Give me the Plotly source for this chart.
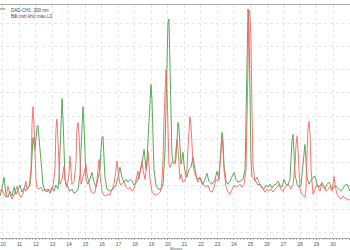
import plotly.graph_objects as go

# Retention time (minutes) and signal (mAU)
green_t = [9.82, 9.94, 10.06, 10.18, 10.30, 10.42, 10.55, 10.67, 10.79, 10.91, 11.03, 11.15, 11.27, 11.39, 11.52, 11.64, 11.70, 11.76, 11.82, 11.88, 11.94, 12.00, 12.06, 12.12, 12.18, 12.24, 12.30, 12.36, 12.42, 12.55, 12.73, 12.85, 12.97, 13.09, 13.21, 13.33, 13.39, 13.45, 13.52, 13.58, 13.64, 13.70, 13.76, 13.82, 13.94, 14.06, 14.18, 14.30, 14.42, 14.55, 14.67, 14.73, 14.79, 14.85, 14.91, 14.97, 15.03, 15.15, 15.27, 15.39, 15.52, 15.64, 15.76, 15.88, 15.94, 16.00, 16.06, 16.12, 16.18, 16.30, 16.48, 16.67, 16.85, 16.97, 17.09, 17.21, 17.33, 17.45, 17.58, 17.70, 17.82, 17.94, 18.06, 18.18, 18.30, 18.42, 18.55, 18.61, 18.67, 18.73, 18.79, 18.85, 18.91, 18.97, 19.03, 19.09, 19.15, 19.27, 19.39, 19.58, 19.70, 19.82, 19.88, 19.94, 20.00, 20.06, 20.12, 20.18, 20.24, 20.30, 20.42, 20.48, 20.55, 20.61, 20.67, 20.73, 20.79, 20.85, 20.91, 20.97, 21.03, 21.15, 21.27, 21.39, 21.52, 21.64, 21.76, 21.94, 22.12, 22.24, 22.36, 22.48, 22.67, 22.85, 22.97, 23.09, 23.15, 23.21, 23.27, 23.33, 23.39, 23.52, 23.64, 23.76, 23.88, 24.00, 24.12, 24.24, 24.36, 24.55, 24.67, 24.73, 24.79, 24.85, 24.91, 24.97, 25.03, 25.09, 25.21, 25.33, 25.45, 25.58, 25.70, 25.82, 25.94, 26.06, 26.18, 26.30, 26.42, 26.55, 26.67, 26.79, 26.91, 27.03, 27.15, 27.27, 27.39, 27.45, 27.52, 27.58, 27.64, 27.70, 27.82, 27.94, 28.06, 28.12, 28.18, 28.24, 28.30, 28.36, 28.42, 28.55, 28.67, 28.79, 28.91, 29.03, 29.15, 29.27, 29.39, 29.52, 29.64, 29.76, 29.88, 30.00, 30.12, 30.24, 30.36, 30.48, 30.61, 30.73, 30.85, 30.97, 31.03]
green_v = [15.6, 18.6, 23.7, 16.4, 15.1, 17.7, 15.6, 19.4, 16.4, 18.6, 20.3, 17.3, 19.0, 17.7, 19.4, 20.3, 25.0, 35.7, 40.8, 37.8, 35.7, 40.0, 45.1, 46.0, 40.0, 34.4, 32.3, 26.3, 20.7, 17.7, 18.6, 16.8, 19.4, 17.7, 20.3, 18.6, 22.8, 35.7, 50.7, 57.6, 48.7, 31.4, 22.8, 20.3, 19.4, 17.7, 18.6, 16.8, 17.3, 18.6, 25.0, 35.7, 49.4, 54.1, 46.4, 31.4, 22.8, 20.7, 22.8, 25.8, 21.6, 19.4, 22.8, 27.1, 35.7, 40.8, 41.3, 33.6, 23.7, 18.6, 17.7, 18.6, 20.3, 23.7, 28.0, 23.7, 21.6, 22.8, 21.6, 22.8, 22.4, 20.3, 21.1, 22.8, 26.3, 29.3, 35.7, 32.3, 27.1, 31.4, 40.0, 50.7, 59.3, 63.6, 57.1, 40.0, 27.1, 20.3, 18.6, 18.6, 20.7, 35.7, 57.1, 78.6, 90.6, 91.8, 70.0, 44.3, 33.6, 30.1, 29.3, 31.4, 40.0, 47.3, 44.3, 33.6, 29.3, 31.4, 34.4, 29.3, 26.3, 23.7, 27.1, 28.0, 32.3, 27.1, 22.8, 23.7, 20.7, 22.8, 25.4, 22.0, 20.7, 22.8, 26.3, 22.8, 29.3, 37.8, 43.0, 40.0, 29.3, 22.0, 20.7, 22.0, 23.7, 25.8, 22.8, 21.6, 22.0, 22.8, 27.1, 48.7, 82.8, 96.1, 87.1, 52.8, 31.4, 23.7, 22.8, 22.0, 20.3, 20.7, 19.4, 18.6, 20.3, 19.4, 20.7, 19.0, 20.3, 20.7, 22.0, 20.3, 19.4, 22.8, 20.7, 20.3, 22.8, 31.4, 40.0, 42.1, 35.7, 25.0, 20.7, 19.4, 20.3, 25.0, 31.4, 36.6, 37.8, 31.4, 23.7, 20.7, 22.0, 23.7, 24.1, 20.7, 19.4, 20.7, 19.8, 18.6, 20.7, 21.6, 19.8, 18.6, 20.3, 19.4, 18.6, 17.7, 19.0, 20.3, 20.7, 18.6, 17.7]

red_t = [9.82, 9.94, 10.06, 10.18, 10.30, 10.42, 10.55, 10.67, 10.79, 10.85, 10.97, 11.09, 11.21, 11.33, 11.39, 11.45, 11.58, 11.64, 11.70, 11.76, 11.82, 11.88, 11.94, 12.00, 12.06, 12.18, 12.30, 12.42, 12.55, 12.67, 12.79, 12.91, 13.03, 13.15, 13.21, 13.27, 13.33, 13.39, 13.45, 13.58, 13.70, 13.76, 13.88, 14.00, 14.06, 14.12, 14.18, 14.30, 14.42, 14.48, 14.55, 14.61, 14.67, 14.73, 14.85, 14.97, 15.03, 15.09, 15.21, 15.33, 15.45, 15.58, 15.70, 15.76, 15.82, 15.88, 16.00, 16.12, 16.24, 16.36, 16.48, 16.61, 16.73, 16.85, 16.91, 16.97, 17.09, 17.21, 17.33, 17.45, 17.58, 17.70, 17.82, 17.94, 18.06, 18.18, 18.24, 18.30, 18.42, 18.48, 18.61, 18.73, 18.79, 18.85, 18.91, 19.03, 19.15, 19.27, 19.39, 19.52, 19.58, 19.64, 19.70, 19.76, 19.82, 19.88, 19.94, 20.00, 20.06, 20.12, 20.24, 20.36, 20.42, 20.48, 20.55, 20.61, 20.67, 20.73, 20.79, 20.85, 20.91, 21.03, 21.15, 21.21, 21.27, 21.33, 21.39, 21.45, 21.52, 21.58, 21.70, 21.82, 21.94, 22.06, 22.18, 22.30, 22.42, 22.55, 22.67, 22.79, 22.91, 23.03, 23.15, 23.21, 23.27, 23.33, 23.39, 23.52, 23.64, 23.76, 23.88, 24.00, 24.12, 24.24, 24.36, 24.48, 24.61, 24.73, 24.79, 24.85, 24.91, 24.97, 25.03, 25.09, 25.15, 25.27, 25.39, 25.52, 25.64, 25.76, 25.88, 26.00, 26.12, 26.24, 26.36, 26.48, 26.61, 26.73, 26.85, 26.97, 27.09, 27.21, 27.33, 27.45, 27.58, 27.70, 27.76, 27.82, 27.88, 27.94, 28.00, 28.12, 28.24, 28.30, 28.36, 28.42, 28.48, 28.55, 28.61, 28.67, 28.73, 28.79, 28.91, 29.03, 29.15, 29.21, 29.33, 29.45, 29.58, 29.70, 29.82, 29.94, 30.06, 30.12, 30.24, 30.36, 30.48, 30.61, 30.73, 30.85, 30.97, 31.03]
red_v = [17.7, 18.6, 16.4, 15.1, 19.8, 16.4, 14.3, 16.0, 18.6, 19.8, 16.4, 15.1, 16.4, 19.4, 22.0, 18.6, 19.4, 22.8, 27.1, 46.4, 54.1, 46.4, 31.4, 22.8, 19.4, 18.6, 19.4, 17.7, 18.6, 17.3, 18.6, 17.7, 19.4, 27.1, 44.3, 48.7, 40.0, 25.0, 20.7, 22.8, 28.4, 22.8, 19.4, 25.0, 32.7, 27.1, 20.7, 21.6, 29.3, 44.3, 47.3, 42.1, 27.1, 20.7, 23.7, 27.1, 29.3, 25.0, 20.7, 17.7, 16.8, 17.3, 22.8, 29.3, 31.4, 25.0, 17.7, 16.0, 15.6, 16.4, 16.0, 18.6, 20.7, 27.1, 30.6, 26.3, 20.7, 20.7, 22.0, 19.4, 18.6, 19.4, 17.7, 18.6, 22.0, 26.3, 22.8, 25.0, 30.6, 27.1, 22.8, 29.3, 34.8, 29.3, 22.8, 17.7, 16.4, 16.0, 16.4, 17.3, 18.6, 22.8, 31.4, 48.7, 63.6, 70.0, 61.4, 40.0, 29.3, 28.0, 30.1, 30.1, 30.6, 35.7, 40.0, 35.7, 27.1, 22.8, 25.0, 23.7, 21.6, 22.0, 27.1, 35.7, 46.4, 49.8, 46.4, 37.8, 29.3, 26.3, 23.7, 21.6, 23.7, 20.7, 20.3, 19.4, 20.3, 17.7, 17.3, 19.4, 22.8, 22.0, 29.3, 36.6, 40.0, 36.6, 27.1, 19.4, 17.3, 16.4, 18.6, 20.3, 19.4, 19.8, 20.7, 19.4, 20.7, 27.1, 48.7, 82.8, 95.7, 93.6, 82.8, 52.8, 29.3, 22.0, 23.7, 21.6, 19.4, 18.6, 17.3, 18.6, 17.7, 18.6, 17.3, 18.6, 19.4, 20.7, 18.6, 17.7, 19.4, 20.7, 20.3, 18.6, 20.7, 29.3, 37.8, 41.3, 35.7, 25.0, 18.6, 16.4, 15.6, 15.1, 18.6, 31.4, 44.3, 47.7, 42.1, 27.1, 18.6, 16.4, 18.6, 20.7, 18.6, 17.7, 21.6, 19.4, 17.7, 18.6, 19.8, 17.7, 24.1, 20.7, 16.4, 15.1, 14.3, 15.6, 14.7, 14.3, 13.8, 14.3]

x_ticks = list(range(10, 32))
header_lines = ["DAD-CH1  300 nm", "Bất mới khử màu L3"]

FONT = "Liberation Sans"

fig = go.Figure()
fig.add_trace(go.Scatter(x=green_t, y=green_v, mode="lines",
                         line=dict(color="#46a046", width=0.9), showlegend=False))
fig.add_trace(go.Scatter(x=red_t, y=red_v, mode="lines",
                         line=dict(color="#ff6262", width=0.9), showlegend=False))

fig.update_layout(
    width=350, height=250,
    margin=dict(l=0, r=0, t=5, b=12),
    paper_bgcolor="white", plot_bgcolor="white",
    font=dict(family=FONT, size=5, color="#444"),
    xaxis=dict(range=[9.82, 31.03], tickmode="array", tickvals=x_ticks,
               ticktext=[str(v) for v in x_ticks],
               showgrid=True, gridcolor="#e6e6e6", griddash="dot", gridwidth=1,
               showline=True, linecolor="#a8a8a8", linewidth=1, mirror=True,
               ticks="outside", ticklen=1, tickcolor="#9a9a9a",
               minor=dict(ticks="outside", ticklen=1, dtick=0.2, tickcolor="#b8b8b8",
                          showgrid=False),
               tickfont=dict(size=5, color="#555"), zeroline=False),
    yaxis=dict(range=[-2.44, 97.85], tick0=0, dtick=10, showticklabels=False,
               showgrid=True, gridcolor="#e6e6e6", griddash="dot", gridwidth=1,
               zeroline=False, showline=False, ticks=""),
)

fig.add_annotation(text="Minutes", xref="paper", yref="paper", x=0.503, y=0,
                   yshift=-6.5, yanchor="top", showarrow=False,
                   font=dict(size=3.5, color="#555"))
fig.add_annotation(text=header_lines[0], xref="paper", yref="paper", x=0.026, y=1,
                   yshift=-1, xanchor="left", yanchor="top", showarrow=False,
                   font=dict(size=4.5, color="#444"))
fig.add_annotation(text=header_lines[1], xref="paper", yref="paper", x=0.026, y=1,
                   yshift=-6, xanchor="left", yanchor="top", showarrow=False,
                   font=dict(size=4.5, color="#444"))
fig.add_shape(type="line", xref="paper", yref="paper", x0=0, x1=0.015, y0=0.983, y1=0.983,
              line=dict(color="#46a046", width=1))

fig.write_html("out.html")
